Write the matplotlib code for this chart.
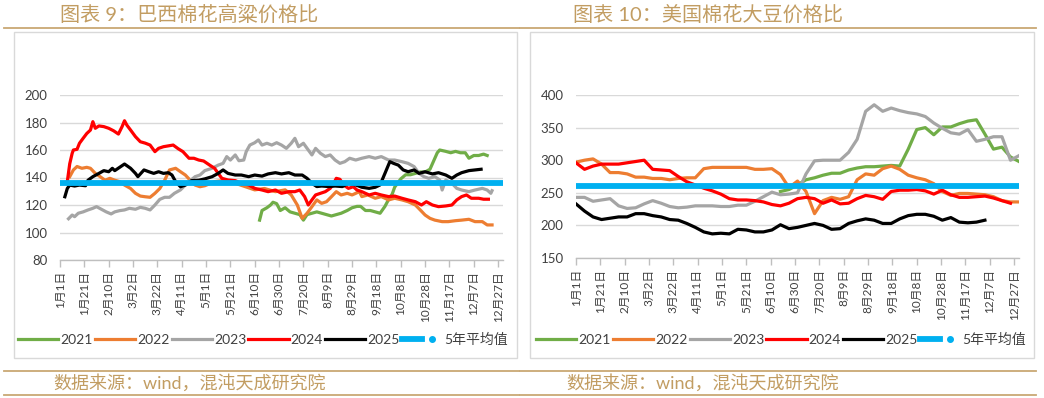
import numpy as np
import matplotlib
matplotlib.use("Agg")
import matplotlib.pyplot as plt
from matplotlib.lines import Line2D
from matplotlib.patches import Rectangle
from matplotlib.legend_handler import HandlerTuple

plt.rcParams['font.family'] = ['Lato', 'Noto Sans CJK SC', 'DejaVu Sans']

W, H = 1044, 398

# x axis: day offset from Jan 1, ticks every 20 days
tick_days = list(range(0, 361, 20))
tick_labels = ['1月1日', '1月21日', '2月10日', '3月2日', '3月22日', '4月11日', '5月1日',
               '5月21日', '6月10日', '6月30日', '7月20日', '8月9日', '8月29日', '9月18日',
               '10月8日', '10月28日', '11月17日', '12月7日', '12月27日']

years = ['2021', '2022', '2023', '2024', '2025']
colors = ['#70AD47', '#ED7D31', '#A5A5A5', '#FF0000', '#000000']
avg_color = '#00B0F0'

# ---- chart 9: Brazil cotton / sorghum price ratio (daily)
br_2021_d = [164, 166, 170, 173, 175, 178, 181, 185, 189, 193, 197, 200, 203, 207, 211, 215,
             219, 223, 227, 231, 236, 240, 244, 247, 251, 255, 259, 263, 267, 270, 273, 275,
             280, 284, 288, 292, 296, 300, 304, 307, 310, 312, 317, 321, 325, 329, 333, 336,
             340, 344, 348, 351]
br_2021_v = [109, 116, 118, 120, 122, 121, 116, 118, 115, 114, 113, 109, 113, 114, 115, 114,
             113, 112, 113, 114, 116, 118, 119, 119, 116, 116, 115, 114, 119, 124, 128, 133,
             139, 142, 142, 143, 144, 144, 146, 152, 158, 160, 159, 158, 159, 158, 158, 154,
             156, 156, 157, 156]

br_2022_d = [8, 11, 14, 18, 22, 25, 29, 33, 37, 41, 45, 49, 53, 58, 62, 66, 70, 74, 78, 82,
             86, 90, 95, 99, 103, 107, 111, 115, 119, 127, 136, 144, 152, 160, 168, 177, 185,
             190, 195, 199, 203, 207, 211, 215, 219, 223, 227, 231, 236, 240, 246, 248, 253,
             259, 264, 270, 275, 281, 286, 292, 296, 300, 304, 308, 314, 319, 325, 330, 336,
             341, 347, 351, 355]
br_2022_v = [140.6, 145.5, 148, 146.7, 147.4, 146.7, 143, 140.6, 138, 139.4, 138, 137, 134.5,
             132, 128.5, 126.5, 126, 125.6, 128.5, 132, 138, 145.5, 146.7, 144.2, 141.8, 138,
             134.5, 133.3, 134, 137, 138, 135.8, 133.4, 131, 132, 129.7, 131, 127.3, 120,
             110.3, 114, 118.8, 123.7, 121.2, 122.4, 126, 129.7, 127.3, 128.5, 127.3, 129.7,
             126.1, 127.3, 124.9, 126.1, 123.7, 124.9, 123.7, 122.4, 120, 116.4, 112.7, 110.3,
             109, 107.9, 107.9, 108.6, 109, 109.6, 107.9, 107.9, 105.5, 105.5]

br_2023_d = [7, 10, 12, 15, 19, 23, 27, 30, 34, 38, 42, 45, 49, 53, 57, 62, 66, 70, 74, 78,
             82, 86, 90, 94, 99, 103, 107, 111, 115, 119, 125, 130, 134, 137, 140, 144, 147,
             151, 153, 156, 160, 163, 166, 170, 174, 178, 182, 186, 190, 193, 196, 200, 204,
             207, 210, 214, 218, 222, 226, 230, 234, 238, 243, 248, 254, 259, 264, 270, 275,
             281, 286, 291, 295, 299, 303, 308, 312, 314, 317, 322, 326, 330, 336, 341, 347,
             351, 354, 355]
br_2023_v = [110, 112.7, 111.5, 114, 115, 116.4, 117.6, 118.8, 116.9, 115, 113.5, 115, 115.9,
             116.4, 117.6, 116.9, 118.3, 117.6, 116.4, 120, 124.1, 125.6, 125.6, 128.5, 131,
             134.5, 137.7, 140.6, 141.8, 145, 146.7, 149, 150.3, 155.2, 152.7, 156.4, 152.2,
             152.7, 158.8, 163.6, 165.3, 167.3, 163.6, 164.9, 163.6, 165.3, 163.6, 161.2,
             164.9, 168.5, 162.4, 164.9, 160, 156.4, 161.2, 157.6, 155.2, 156.4, 152.7, 150.3,
             151.5, 154, 152.7, 154, 155.2, 154, 155.2, 152.7, 152.7, 151.5, 150.3, 147.9, 143,
             140.6, 139.4, 140.6, 138.2, 130.9, 138.2, 135.8, 132.1, 130.9, 129.7, 130.9, 132.1,
             130.9, 128.5, 130.4]

br_2024_d = [6, 8, 10, 11, 14, 16, 19, 22, 25, 27, 29, 32, 36, 40, 44, 48, 51, 53, 55, 58,
             62, 66, 70, 74, 78, 81, 85, 89, 93, 97, 101, 106, 110, 114, 118, 123, 127, 130,
             133, 138, 144, 149, 155, 160, 166, 171, 177, 182, 188, 193, 197, 201, 204, 207,
             210, 214, 218, 222, 225, 227, 230, 233, 237, 241, 244, 248, 254, 259, 264, 270,
             275, 281, 286, 292, 297, 301, 306, 311, 317, 322, 326, 330, 334, 338, 344, 348, 352]
br_2024_v = [137, 150, 157.6, 160, 160.5, 164.9, 168.5, 172, 174.5, 180.6, 175.8, 177.5, 177,
             175.8, 174, 171.6, 177, 181.3, 178, 174.5, 169.7, 166, 165, 163.6, 158.8, 161.2,
             162.4, 163, 163.6, 161, 158.8, 154, 154, 152.7, 152, 149, 146.7, 143, 139.4,
             138.2, 137.7, 135.8, 134.6, 132.1, 130.9, 129.7, 130.9, 128.5, 129.7, 129.7,
             130.9, 126.1, 120, 123.7, 127.3, 128.5, 129.7, 132.1, 135.8, 139.4, 138.7, 134.6,
             132.1, 133.3, 130.9, 129.7, 127.3, 128.5, 127.3, 126.1, 126.5, 124.9, 123.7, 122.4,
             120, 122.4, 120, 118.8, 119.3, 120, 123.7, 126.1, 127.3, 124.9, 124.9, 124.2, 124.2]

br_2025_d = [4, 6, 8, 12, 16, 21, 23, 27, 32, 36, 40, 43, 45, 49, 53, 58, 62, 64, 69, 73, 77,
             81, 85, 89, 92, 95, 99, 103, 108, 114, 119, 125, 130, 134, 138, 144, 149, 155,
             160, 166, 171, 177, 182, 188, 193, 199, 203, 207, 211, 215, 221, 226, 232, 237,
             243, 248, 254, 259, 263, 267, 271, 274, 278, 282, 286, 291, 295, 300, 306, 311,
             317, 322, 326, 330, 336, 341, 346]
br_2025_v = [126, 132, 134.5, 133.8, 134.5, 134, 138, 140.6, 143, 145, 144.2, 146.7, 145,
             147.4, 149.8, 146.7, 143, 140.6, 145.5, 144.2, 143, 144.2, 143, 143.5, 141.8, 137,
             133.3, 134.5, 137.7, 138, 139, 140.6, 143, 145.5, 143, 141.8, 141.8, 140.6, 141.8,
             141, 142.6, 143.5, 142.6, 143.5, 141.8, 141.8, 139.4, 135.8, 133.4, 133.8, 133.4,
             133.8, 133.4, 135.8, 134.6, 132.9, 132.1, 132.9, 134.6, 143, 151.5, 150.3, 149,
             145.5, 144.2, 145.5, 143, 144.2, 142.6, 143.5, 141.8, 139.4, 141.8, 143.5, 145,
             145.5, 146]

br_avg = 136

# ---- chart 10: US cotton / soybean price ratio (weekly)
us_days = list(range(0, 365, 7))
nan = np.nan
us_2021 = [nan] * 24 + [252, 255, 262, 270, 273, 277, 280, 280, 285, 288, 290, 290, 291, 292,
                        291, 317, 347, 350, 339, 351, 351, 356, 360, 362, 340, 317, 320, 305, 298]
us_2022 = [297, 300, 302, 294, 281, 281, 279, 274, 274, 272, 272, 270, 272, 273, 273, 287, 289,
           289, 289, 289, 289, 286, 286, 287, 278, 258, 268, 252, 218, 238, 243, 240, 244, 270,
           279, 277, 287, 291, 286, 277, 273, 270, 264, 252, 246, 249, 249, 248, 247, 244, 238,
           236, 236]
us_2023 = [243, 243, 237, 239, 241, 230, 226, 227, 233, 238, 234, 229, 227, 228, 230, 230, 230,
           229, 229, 231, 231, 237, 244, 251, 247, 248, 250, 279, 299, 300, 300, 300, 312, 332,
           375, 385, 375, 380, 376, 373, 371, 367, 357, 349, 342, 340, 347, 329, 332, 336, 336,
           300, 307]
us_2024 = [296, 286, 291, 294, 294, 294, 296, 298, 300, 286, 285, 284, 275, 267, 262, 257, 253,
           248, 241, 239, 239, 238, 236, 232, 230, 234, 241, 243, 241, 234, 239, 233, 234, 241,
           246, 244, 240, 252, 254, 254, 255, 253, 248, 254, 247, 243, 243, 244, 245, 242, 238,
           234, nan]
us_2025 = [233, 222, 213, 209, 211, 213, 213, 218, 218, 215, 213, 209, 208, 203, 197, 190, 187,
           188, 187, 194, 193, 190, 190, 193, 201, 195, 197, 200, 203, 200, 194, 195, 203, 207,
           210, 208, 203, 203, 210, 215, 217, 217, 214, 208, 212, 205, 204, 205, 208,
           nan, nan, nan, nan]
us_avg = 260

fig = plt.figure(figsize=(W / 100, H / 100), dpi=100)
fig.patch.set_facecolor('white')

gold = '#C29D62'
gold_line = '#C9A874'
txt = '#404040'


def px(x, y):
    return x / W, 1 - y / H


def style(ax, yticks):
    ax.set_xlim(0, 364)
    ax.set_ylim(yticks[0], yticks[-1])
    ax.set_yticks(yticks)
    ax.set_xticks(tick_days)
    ax.set_xticklabels(tick_labels, rotation=90, fontsize=8.5, color=txt)
    ax.tick_params(axis='x', length=5, width=1, color='#BFBFBF', pad=3)
    ax.tick_params(axis='y', length=0, pad=9, labelsize=9.5, labelcolor=txt)
    for s in ['top', 'right', 'left']:
        ax.spines[s].set_visible(False)
    ax.spines['bottom'].set_color('#BFBFBF')
    ax.spines['bottom'].set_linewidth(1)
    ax.grid(axis='y', color='#D9D9D9', lw=1)
    ax.set_axisbelow(True)


def legend(ax, handles, cx):
    dot = Line2D([], [], color=avg_color, marker='o', ls='none', markersize=4)
    hs = handles[:5] + [(handles[5], dot)]
    fig.legend(hs, years + ['5年平均值'], loc='center', bbox_to_anchor=(cx, 1 - 339 / H),
               ncol=6, frameon=False, fontsize=10, labelcolor=txt, handlelength=2.9,
               handletextpad=0.15, columnspacing=0.15, borderaxespad=0,
               handler_map={tuple: HandlerTuple(ndivide=None, pad=0)})


def frame(x0, x1, title, tx):
    # outer box, title rule, footer rules and source text
    fig.add_artist(Rectangle(px(x0 + 10, 358), (x1 - x0 - 12) / W, 326 / H, fill=False,
                             ec='#D9D9D9', lw=1))
    for yy in (28, 371, 395):
        fig.add_artist(Line2D([x0 / W, x1 / W], [1 - yy / H] * 2, color=gold_line, lw=1.3))
    fig.text(*px(tx, 14), title, fontsize=14.5, color=gold, va='center', ha='left')
    fig.text(*px(tx - 7, 383), '数据来源：wind，混沌天成研究院', fontsize=13, color=gold,
             va='center', ha='left')


# left chart
ax1 = fig.add_axes([60 / W, 1 - 260 / H, 443 / W, 165 / H])
br_d = [br_2021_d, br_2022_d, br_2023_d, br_2024_d, br_2025_d]
br_v = [br_2021_v, br_2022_v, br_2023_v, br_2024_v, br_2025_v]
h1 = []
for d, v, c, y in zip(br_d, br_v, colors, years):
    h1 += ax1.plot(d, v, color=c, lw=2.3, label=y, solid_joinstyle='round')
h1.append(ax1.axhline(br_avg, color=avg_color, lw=4.2))
style(ax1, [80, 100, 120, 140, 160, 180, 200])
legend(ax1, h1, 263 / W)
frame(4, 519, '图表 9：巴西棉花高粱价格比', 60)

# right chart
ax2 = fig.add_axes([576 / W, 1 - 258 / H, 443 / W, 163 / H])
h2 = []
for v, c, y in zip([us_2021, us_2022, us_2023, us_2024, us_2025], colors, years):
    h2 += ax2.plot(us_days, v, color=c, lw=2.3, label=y, solid_joinstyle='round')
h2.append(ax2.axhline(us_avg, color=avg_color, lw=4.2))
style(ax2, [150, 200, 250, 300, 350, 400])
legend(ax2, h2, 781 / W)
frame(520, 1036, '图表 10：美国棉花大豆价格比', 573)

fig.savefig('out.png', dpi=100, facecolor='white')
